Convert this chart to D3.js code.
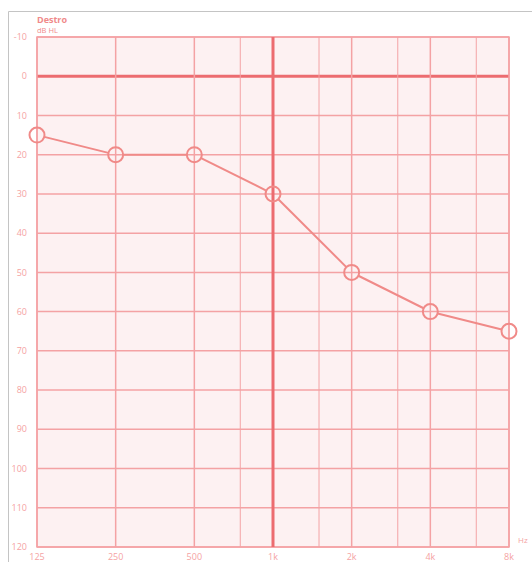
<!DOCTYPE html>
<html>
<head>
<meta charset="utf-8">
<script src="https://cdn.jsdelivr.net/npm/d3@7"></script>
<style>
  body { margin: 0; background: #fff; }
  svg { display: block; font-family: "Open Sans", "DejaVu Sans", sans-serif; }
</style>
</head>
<body>
<div id="chart"></div>
<script>
// audiogram, right ear ("Destro")
var freqMain = [125, 250, 500, 1000, 2000, 4000, 8000];
var freqMainLabels = ["125", "250", "500", "1k", "2k", "4k", "8k"];
var freqMid = [750, 1500, 3000, 6000];
var freqMidLabels = ["750", "1.5k", "3k", "6k"];
var dbTicks = [-10, 0, 10, 20, 30, 40, 50, 60, 70, 80, 90, 100, 110, 120];
var thresholdFreq = [125, 250, 500, 1000, 2000, 4000, 8000];
var thresholdDb = [15, 20, 20, 30, 50, 60, 65];

var W = 532, H = 562;
var margin = {top: 37, left: 37, right: 23, bottom: 15};
var width = W - margin.left - margin.right;
var height = H - margin.top - margin.bottom;

var gridCol = "#f4a2a4", boldCol = "#ec6c70", lineCol = "#f08a88", textCol = "#f5a3a3";

var svg = d3.select("#chart").append("svg")
    .attr("width", W)
    .attr("height", H);

// outer frame
svg.append("line").attr("x1", 8.5).attr("x2", W).attr("y1", 11.5).attr("y2", 11.5)
    .attr("stroke", "#c4c4c4").attr("stroke-width", 1);
svg.append("line").attr("x1", 8.5).attr("x2", 8.5).attr("y1", 11.5).attr("y2", H)
    .attr("stroke", "#c4c4c4").attr("stroke-width", 1);

var x = d3.scaleLog().base(2).domain([125, 8000]).range([0, width]);
var y = d3.scaleLinear().domain([-10, 120]).range([0, height]);

var g = svg.append("g")
    .attr("transform", "translate(" + margin.left + "," + margin.top + ")");

g.append("rect")
    .attr("width", width).attr("height", height)
    .attr("fill", "#fdf1f2")
    .attr("stroke", gridCol).attr("stroke-width", 1.5);

// grid
g.selectAll(".hgrid").data(dbTicks).enter().append("line")
    .attr("x1", 0).attr("x2", width)
    .attr("y1", function(d) { return y(d); })
    .attr("y2", function(d) { return y(d); })
    .attr("stroke", function(d) { return d === 0 ? boldCol : gridCol; })
    .attr("stroke-width", function(d) { return d === 0 ? 3 : 1.5; });

g.selectAll(".vgrid").data(freqMain.concat(freqMid)).enter().append("line")
    .attr("y1", 0).attr("y2", height)
    .attr("x1", function(d) { return x(d); })
    .attr("x2", function(d) { return x(d); })
    .attr("stroke", function(d) { return d === 1000 ? boldCol : gridCol; })
    .attr("stroke-width", function(d) { return d === 1000 ? 3 : (freqMid.indexOf(d) >= 0 ? 1.3 : 1.5); })
    .attr("opacity", function(d) { return freqMid.indexOf(d) >= 0 ? 0.75 : 1; });

// axis labels
g.selectAll(".ylab").data(dbTicks).enter().append("text")
    .attr("x", -10)
    .attr("y", function(d) { return y(d); })
    .attr("dy", "0.35em")
    .attr("text-anchor", "end")
    .attr("font-size", 9)
    .attr("fill", textCol)
    .text(function(d) { return d; });

g.selectAll(".xlab").data(freqMain).enter().append("text")
    .attr("x", function(d) { return x(d); })
    .attr("y", height + 13)
    .attr("text-anchor", "middle")
    .attr("font-size", 9)
    .attr("fill", textCol)
    .text(function(d, i) { return freqMainLabels[i]; });

g.selectAll(".xlab2").data(freqMid).enter().append("text")
    .attr("x", function(d) { return x(d); })
    .attr("y", height + 22)
    .attr("text-anchor", "middle")
    .attr("font-size", 9)
    .attr("fill", textCol)
    .text(function(d, i) { return freqMidLabels[i]; });

g.append("text")
    .attr("x", width + 9).attr("y", height - 4)
    .attr("font-size", 8).attr("fill", textCol)
    .text("Hz");

svg.append("text")
    .attr("x", 37).attr("y", 23)
    .attr("font-size", 9).attr("font-weight", "bold")
    .attr("fill", "#f08a8a")
    .text("Destro");
svg.append("text")
    .attr("x", 37).attr("y", 33)
    .attr("font-size", 7.5)
    .attr("fill", "#f08a8a")
    .text("dB HL");

// threshold curve
var r = 7.5;
var pts = thresholdFreq.map(function(f, i) { return [x(f), y(thresholdDb[i])]; });
var segs = d3.pairs(pts).map(function(p) {
    var dx = p[1][0] - p[0][0], dy = p[1][1] - p[0][1];
    var len = Math.sqrt(dx * dx + dy * dy);
    var ux = dx / len, uy = dy / len;
    return [p[0][0] + ux * r, p[0][1] + uy * r, p[1][0] - ux * r, p[1][1] - uy * r];
});
g.selectAll(".seg").data(segs).enter().append("line")
    .attr("x1", function(d) { return d[0]; })
    .attr("y1", function(d) { return d[1]; })
    .attr("x2", function(d) { return d[2]; })
    .attr("y2", function(d) { return d[3]; })
    .attr("stroke", lineCol).attr("stroke-width", 2);

g.selectAll(".pt").data(pts).enter().append("circle")
    .attr("cx", function(d) { return d[0]; })
    .attr("cy", function(d) { return d[1]; })
    .attr("r", r)
    .attr("fill", "none")
    .attr("stroke", lineCol).attr("stroke-width", 2);
</script>
</body>
</html>
